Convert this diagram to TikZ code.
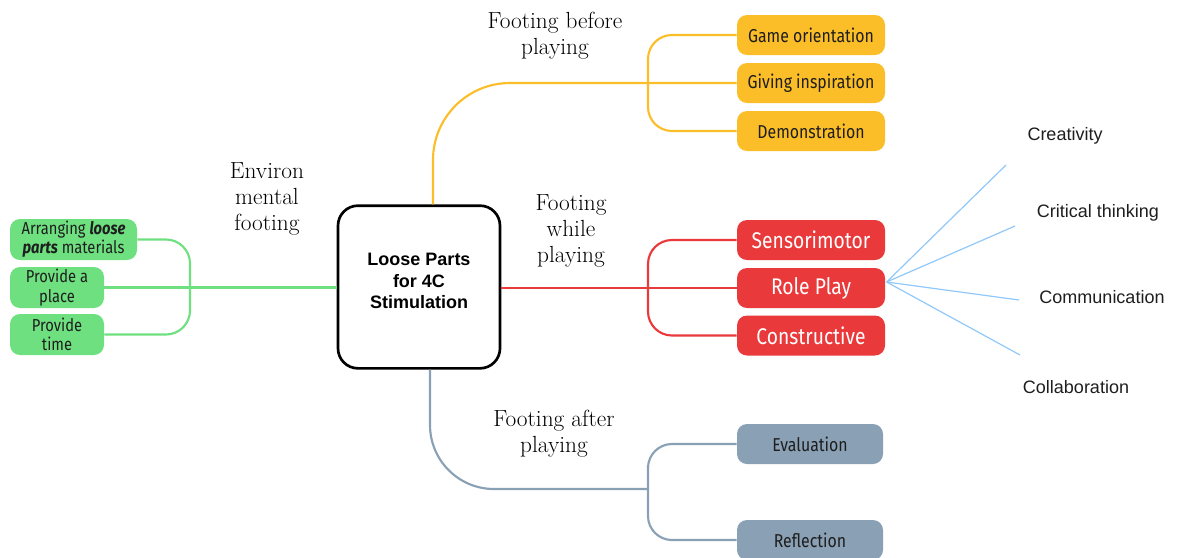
\documentclass[tikz,border=0pt]{standalone}
\usepackage{fontspec}
\newfontfamily\boxfont{Fira Sans}[FakeStretch=0.85]
\newfontfamily\arialfont{Liberation Sans}
\usetikzlibrary{calc}

\definecolor{cyellow}{HTML}{FBBE28}
\definecolor{cred}{HTML}{E9393B}
\definecolor{cgray}{HTML}{8AA0B4}
\definecolor{cgreen}{HTML}{6EE080}
\definecolor{cblue}{HTML}{90C8F8}
\definecolor{ctext}{HTML}{1E1E1E}

\begin{document}
\begin{tikzpicture}[x=0.75pt,y=-0.75pt,
  pill/.style={rounded corners=7.5pt, minimum height=30pt, inner sep=0pt,
    align=center, text=ctext, font=\boxfont\fontsize{14}{16}\selectfont},
  ybox/.style={pill, fill=cyellow, minimum width=111pt},
  rbox/.style={pill, fill=cred, text=white, minimum width=111pt,
    font=\boxfont\fontsize{17}{19}\selectfont},
  gbox/.style={pill, fill=cgray, minimum width=109.5pt},
  grbox/.style={pill, fill=cgreen, minimum height=30.75pt,
    font=\boxfont\fontsize{13}{14.5}\selectfont},
  hubbox/.style={draw=black, line width=2pt, rounded corners=15pt,
    minimum width=121.5pt, minimum height=122pt, inner sep=0pt},
  hubtext/.style={align=center, inner sep=0pt,
    font=\arialfont\bfseries\fontsize{13.5}{16}\selectfont},
  lbl/.style={align=center, inner sep=0pt, font=\fontsize{17.5}{19.5}\selectfont},
  cl/.style={inner sep=0pt, font=\arialfont\fontsize{13.5}{16}\selectfont, text=ctext},
  yline/.style={draw=cyellow, line width=1.6pt},
  rline/.style={draw=cred, line width=1.6pt},
  eline/.style={draw=cgray, line width=1.6pt},
  pline/.style={draw=cgreen, line width=1.6pt},
  bline/.style={draw=cblue, line width=0.9pt}]

\useasboundingbox (0,0) rectangle (1180,557);
\clip (0,0) rectangle (1180,557);

% central topic
\node[hubbox, label={[hubtext, yshift=4.5pt]center:Loose Parts\\for 4C\\Stimulation}]
  (C) at (419,287) {};

% before playing
\node[ybox] (Y1) at (811,35) {Game orientation};
\node[ybox] (Y2) at (811,83) {Giving inspiration};
\node[ybox] (Y3) at (811,131) {Demonstration};

% while playing
\node[rbox] (R1) at (811,240) {Sensorimotor};
\node[rbox] (R2) at (811,288) {Role Play};
\node[rbox] (R3) at (811,335.5) {Constructive};

% after playing
\node[gbox] (E1) at (810,444) {Evaluation};
\node[gbox] (E2) at (810,540) {Reflection};

% environmental
\node[grbox, minimum width=95.25pt] (P1) at (73.5,239.5)
  {Arranging \textbf{\textit{loose}}\\\textbf{\textit{parts}} materials};
\node[grbox, minimum width=70.5pt] (P2) at (57,287.5) {Provide a\\place};
\node[grbox, minimum width=70.5pt] (P3) at (57,334.5) {Provide\\time};

% branch labels
\node[lbl] (L1) at (555,36) {Footing before\\playing};
\node[lbl] (L2) at (571,231) {Footing\\while\\playing};
\node[lbl] (L3) at (554,434) {Footing after\\playing};
\node[lbl] (L4) at (267,199) {Environ\\mental\\footing};

% 4C skills
\node[cl] (S1) at (1065,136) {Creativity};
\node[cl] (S2) at (1098,213) {Critical thinking};
\node[cl] (S3) at (1102,297) {Communication};
\node[cl] (S4) at (1076,387) {Collaboration};

% junctions
\coordinate (yj) at (648,83);
\coordinate (rj) at (648,288);
\coordinate (ej) at (648,489);
\coordinate (pj) at (190,287.5);

% yellow branch
\draw[yline, rounded corners=57.75pt] ([xshift=10.5pt]C.north) |- (Y2.west);
\draw[yline, rounded corners=18pt] (Y1.west) -| (yj) |- (Y3.west);

% red branch
\draw[rline] (C.east |- R2.west) -- (R2.west);
\draw[rline, rounded corners=18pt] (R1.west) -| (rj) |- (R3.west);

% gray branch
\draw[eline, rounded corners=48pt] ([xshift=8.25pt]C.south) |- (ej);
\draw[eline, rounded corners=18pt] (E1.west) -| (ej) |- (E2.west);

% green branch
\draw[pline] (C.west |- P2.east) -- (P2.east);
\draw[pline, rounded corners=18pt] (P1.east) -| (pj) |- (P3.east);

% fan towards the 4C skills
\coordinate (hub) at ([xshift=1pt,yshift=4.5pt]R2.east);
\coordinate (b1) at (1006,165);
\coordinate (b2) at (1015,226);
\coordinate (b3) at (1019,300);
\coordinate (b4) at (1020,355);
\foreach \b in {b1,b2,b3,b4}
  \draw[bline] (hub) -- (\b);

\end{tikzpicture}
\end{document}
